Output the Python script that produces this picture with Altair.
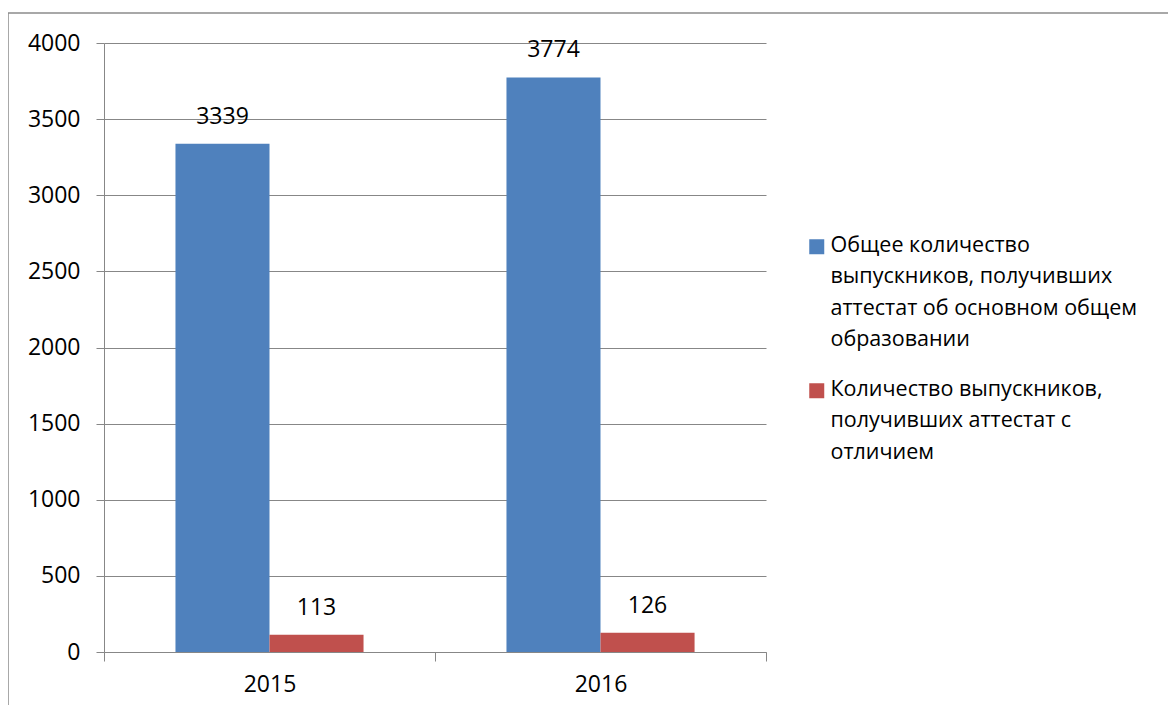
import altair as alt
import pandas as pd

years = ["2015", "2016"]
series_lines = [
    ["Общее количество", "выпускников, получивших", "аттестат об основном общем", "образовании"],
    ["Количество выпускников,", "получивших аттестат с", "отличием"],
]
series = ["\n".join(s) for s in series_lines]
total_values = [3339, 3774]
honors_values = [113, 126]
colors = ["#4F81BD", "#C0504D"]
y_ticks = [0, 500, 1000, 1500, 2000, 2500, 3000, 3500, 4000]

rows = []
for i, yr in enumerate(years):
    rows.append({"year": yr, "series": series[0], "value": total_values[i]})
    rows.append({"year": yr, "series": series[1], "value": honors_values[i]})
df = pd.DataFrame(rows)

FONT = "Open Sans"
GRID = "#878787"
W, H = 662, 609
DY = -12  # shift applied to guide labels (legend alignment), compensated on axes

x_enc = alt.X("year:N", sort=years,
              scale=alt.Scale(paddingInner=0, paddingOuter=0),
              axis=alt.Axis(title=None, labelAngle=0, tickBand="extent",
                            tickSize=9, labelPadding=12 - DY, domainColor=GRID,
                            tickColor=GRID, labelFontSize=23, labelFont=FONT,
                            labelColor="black", grid=False))
xo_enc = alt.XOffset("series:N", sort=series,
                     scale=alt.Scale(paddingInner=0, paddingOuter=0.76))
y_enc = alt.Y("value:Q", scale=alt.Scale(domain=[0, 4000], nice=False),
              axis=alt.Axis(title=None, values=y_ticks, format="d", tickSize=8,
                            labelPadding=16, labelOffset=-DY, domainColor=GRID,
                            tickColor=GRID, gridColor=GRID, labelFontSize=23,
                            labelFont=FONT, labelColor="black"))

base = alt.Chart(df)
bars = base.mark_bar().encode(
    x=x_enc, xOffset=xo_enc, y=y_enc,
    color=alt.Color("series:N", sort=series,
                    scale=alt.Scale(domain=series, range=colors),
                    legend=alt.Legend(
                        title=None, orient="none", legendX=702, legendY=193,
                        symbolType="square", symbolSize=225, symbolStrokeWidth=0,
                        labelFont=FONT, labelFontSize=21.5, labelColor="black",
                        labelLimit=500, labelOffset=3, labelBaseline="top",
                        labelExpr="split(datum.label, '\\n')",
                        rowPadding=27, padding=0,
                    )),
)
labels = base.mark_text(font=FONT, fontSize=23, color="black",
                        baseline="middle", dy=-27).encode(
    x=alt.X("year:N", sort=years), xOffset=alt.XOffset("series:N", sort=series),
    y="value:Q", text="value:Q")

frame = alt.Chart(pd.DataFrame({"f": [0]})).mark_rect(
    fill="transparent", stroke="#8c8c8c", strokeWidth=1.5, clip=False).encode(
    x=alt.value(-96), x2=alt.value(W + 500), y=alt.value(-30), y2=alt.value(H + 200))

chart = alt.layer(bars, labels, frame).properties(
    width=W, height=H,
    autosize=alt.AutoSizeParams(type="none"),
    padding={"left": 96, "top": 35, "right": 402, "bottom": 53},
).configure(
    background="white",
    view={"stroke": "transparent"},
    style={"guide-label": {"lineHeight": 31.5, "dy": DY}},
)

chart.save("out.html", embed_options={"renderer": "svg", "actions": False})
